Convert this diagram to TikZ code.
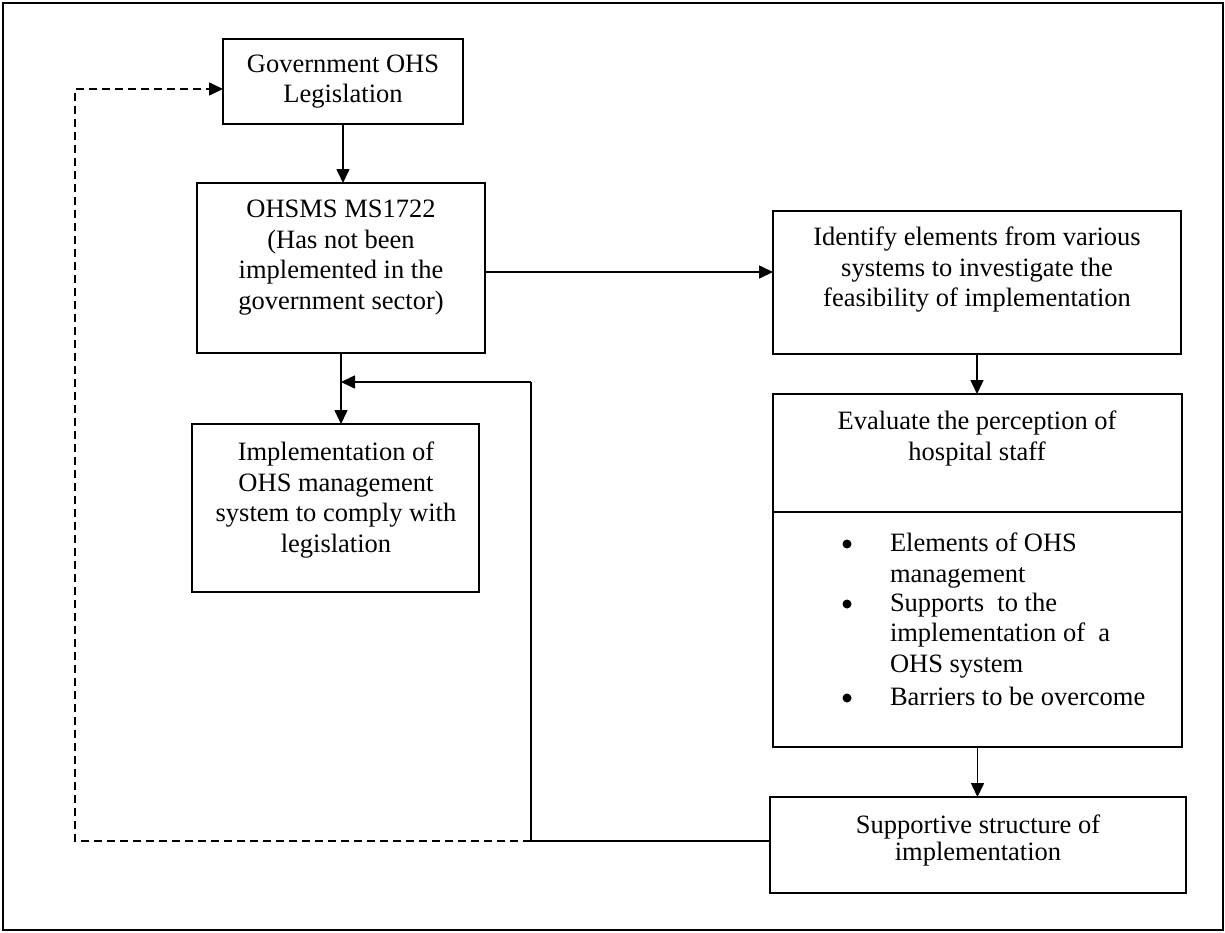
\documentclass[tikz,border=0pt]{standalone}
\usepackage{fontspec}
\setmainfont{Liberation Serif}
\usetikzlibrary{arrows.meta}

\begin{document}
\begin{tikzpicture}[x=1pt,y=-1pt,
  every node/.style={inner sep=0pt, outer sep=0pt},
  box/.style={draw, rectangle, line width=1.8pt, anchor=north west},
  txt/.style={align=center, font=\fontsize{26.5pt}{30.5pt}\selectfont},
  tighttxt/.style={align=center, font=\fontsize{26.5pt}{27pt}\selectfont},
  itemtxt/.style={align=left, anchor=north west, font=\fontsize{26.5pt}{30.5pt}\selectfont},
  dot/.style={circle, fill, minimum size=9pt},
  link/.style={line width=1.6pt},
  arr/.style={line width=1.6pt, -{Triangle[length=14pt,width=13pt]}},
  dashlink/.style={line width=1.6pt, dash pattern=on 8pt off 5pt},
]
\useasboundingbox (0,0) rectangle (1225,932);

% outer frame
\draw[line width=2.2pt] (3,3) rectangle (1223,930);

% boxes
\node[box, minimum width=240pt, minimum height=85pt]  (gov)   at (223,39)  {};
\node[box, minimum width=288pt, minimum height=170pt] (ohsms) at (197,183) {};
\node[box, minimum width=287pt, minimum height=168pt] (impl)  at (192,424) {};
\node[box, minimum width=408pt, minimum height=143pt] (ident) at (773,211) {};
\node[box, minimum width=409pt, minimum height=353pt] (eval)  at (773,394) {};
\node[box, minimum width=416pt, minimum height=96pt]  (supp)  at (770,797) {};

% divider inside the evaluation box
\coordinate (divy) at (0,512);
\draw[line width=1.8pt] (eval.west |- divy) -- (eval.east |- divy);

% box texts
\node[txt] (govT) at (gov.center) {Government OHS\\Legislation};
\node[txt, anchor=north] (ohsmsT) at (341,200)
  {OHSMS MS1722\\(Has not been\\implemented in the\\government sector)};
\node[txt, anchor=north] (implT) at (336,442)
  {Implementation of\\OHS management\\system to comply with\\legislation};
\node[txt, anchor=north] (identT) at (977,227)
  {Identify elements from various\\systems to investigate the\\feasibility of implementation};
\node[txt, anchor=north] (evalT) at (977,411)
  {Evaluate the perception of\\hospital staff};
\node[tighttxt, anchor=north] (suppT) at (978,815)
  {Supportive structure of\\implementation};

% bullet list
\node[dot] (d1) at (847,544) {};
\node[itemtxt] (it1) at (890,533) {Elements of OHS\\management};
\node[dot] (d2) at (847,604) {};
\node[itemtxt] (it2) at (890,593) {Supports\ \ to the\\implementation of\ \ a\\OHS system};
\node[dot] (d3) at (847,698) {};
\node[itemtxt] (it3) at (890,687) {Barriers to be overcome};

% main flow
\draw[arr] (gov.south) -- (gov.south |- ohsms.north);
\coordinate (o2i) at ([yshift=-4pt]ohsms.east);
\draw[arr] (o2i) -- (o2i -| ident.west);
\draw[arr] (ohsms.south) -- (ohsms.south |- impl.north);
\draw[arr] (ident.south) -- (ident.south |- eval.north);
\draw[arr] (eval.south) -- (eval.south |- supp.north);

% feedback from the supportive structure
\coordinate (fbB) at (531,841);
\coordinate (fbT) at (531,382);
\draw[link] (supp.west |- fbB) -- (fbB) -- (fbT);
\draw[arr] (fbT) -- (ohsms.south |- fbT);

% dashed return to legislation
\coordinate (dl) at (75,841);
\coordinate (ul) at (75,89);
\draw[dashlink] (fbB) -- (dl) -- (ul) -- ([xshift=-12pt]ul -| gov.west);
\draw[arr] ([xshift=-14pt]ul -| gov.west) -- (ul -| gov.west);
\end{tikzpicture}
\end{document}
